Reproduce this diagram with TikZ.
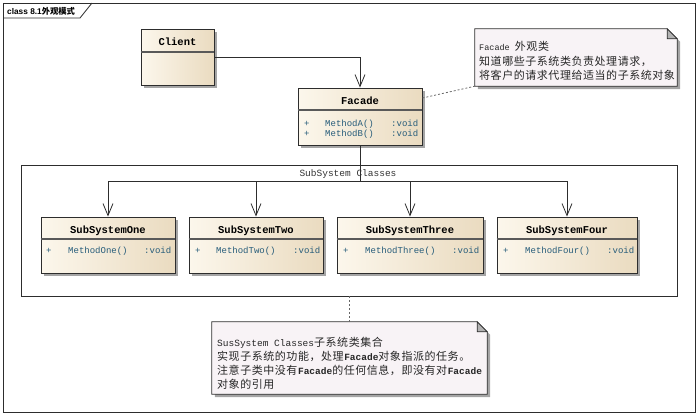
\documentclass[tikz,border=0pt]{standalone}
\usepackage{fontspec}
\setmainfont{Liberation Mono}
\newfontfamily\cjk[LetterSpace=5]{Noto Sans CJK SC}
\newfontfamily\cjktab{Noto Sans CJK SC}
\newfontfamily\tabsans{Liberation Sans}
\usetikzlibrary{arrows.meta,calc}
\definecolor{boxL}{RGB}{252,247,236}
\definecolor{boxR}{RGB}{234,219,192}
\definecolor{notefill}{RGB}{248,243,246}
\definecolor{methc}{RGB}{38,92,122}
\definecolor{linec}{RGB}{45,45,45}
\definecolor{shadowc}{RGB}{165,165,165}
\newcommand\zh[1]{{\cjk\fontsize{11}{14}\selectfont #1}}
\tikzset{
  classbox/.style={draw=linec, line width=0.9pt, left color=boxL, right color=boxR, inner sep=0pt,
    preaction={fill=shadowc, transform canvas={xshift=3pt,yshift=-3pt}}},
  divider/.style={draw=black!65, line width=1.1pt},
  ctitle/.style={font=\bfseries\fontsize{10.5}{12}\selectfont, inner sep=0pt, anchor=base},
  meth/.style={text=methc, font=\fontsize{9}{11}\selectfont, anchor=base west, inner sep=0pt},
  assoc/.style={draw=linec, line width=0.8pt, -{Straight Barb[length=12pt,width=10pt,line width=0.8pt]}},
  plainline/.style={draw=linec, line width=0.8pt},
  noteline/.style={draw=black!60, line width=0.8pt, dash pattern=on 2pt off 2pt},
  notebox/.style={inner sep=0pt},
  notetext/.style={font=\fontsize{9.5}{14}\selectfont, anchor=base west, inner sep=0pt, text=black!85},
}
\newcommand\drawnote[1]{%
  \fill[shadowc] ($(#1.north west)+(3,3)$) -- ($(#1.north east)+(-7,3)$) -- ($(#1.north east)+(3,13)$) -- ($(#1.south east)+(3,3)$) -- ($(#1.south west)+(3,3)$) -- cycle;
  \filldraw[fill=notefill, draw=linec, line width=0.8pt] (#1.north west) -- ($(#1.north east)+(-10,0)$) -- ($(#1.north east)+(0,10)$) -- (#1.south east) -- (#1.south west) -- cycle;
  \filldraw[fill=black!30, draw=linec, line width=0.8pt] ($(#1.north east)+(-10,0)$) -- ($(#1.north east)+(-10,10)$) -- ($(#1.north east)+(0,10)$) -- cycle;
}
\begin{document}
\begin{tikzpicture}[x=1pt,y=-1pt]
\useasboundingbox (0,0) rectangle (698,416);
% outer frame
\node[draw=linec, line width=0.8pt, minimum width=692pt, minimum height=409pt, inner sep=0pt] (frame) at (349,207.5) {};
\coordinate (tabA) at (3,18);
\coordinate (tabB) at (80,18);
\coordinate (tabC) at (92,3);
\draw[linec, line width=0.8pt] (tabA) -- (tabB) -- (tabC);
\node[anchor=base west, inner sep=0pt, font=\tabsans\bfseries\fontsize{8.3}{9}\selectfont] (tab) at (7,14) {class 8.1{\cjktab\bfseries 外观模式}};

% package
\node[draw=linec, line width=0.8pt, minimum width=656pt, minimum height=131pt, inner sep=0pt] (pkg) at (349,230.5) {};
\node[inner sep=0pt, anchor=base, font=\fontsize{9.5}{11}\selectfont, text=black!80] (pkglabel) at (348,176.5) {SubSystem Classes};

% classes
\node[classbox, minimum width=73pt, minimum height=56pt] (client) at (177.5,57) {};
\draw[divider] (client.west |- 0,52) -- (client.east |- 0,52);
\node[ctitle] (clientt) at (177.5,45.5) {Client};

\node[classbox, minimum width=124pt, minimum height=57pt] (facade) at (360,116.5) {};
\draw[divider] (facade.west |- 0,110) -- (facade.east |- 0,110);
\node[ctitle] (facadet) at (360,104.5) {Facade};
\node[meth] (fa1) at (304,126) {+};
\node[meth] (fa2) at (325,126) {MethodA()};
\node[meth] (fa3) at (391,126) {:void};
\node[meth] (fb1) at (304,136) {+};
\node[meth] (fb2) at (325,136) {MethodB()};
\node[meth] (fb3) at (391,136) {:void};

\node[classbox, minimum width=134pt, minimum height=56pt] (one) at (108,245) {};
\draw[divider] (one.west |- 0,239) -- (one.east |- 0,239);
\node[ctitle] (onet) at (108,233.5) {SubSystemOne};
\node[meth] (one1) at (46,253) {+};
\node[meth] (one2) at (68,253) {MethodOne()};
\node[meth] (one3) at (144,253) {:void};

\node[classbox, minimum width=134pt, minimum height=56pt] (two) at (256,245) {};
\draw[divider] (two.west |- 0,239) -- (two.east |- 0,239);
\node[ctitle] (twot) at (256,233.5) {SubSystemTwo};
\node[meth] (two1) at (195,253) {+};
\node[meth] (two2) at (216,253) {MethodTwo()};
\node[meth] (two3) at (293,253) {:void};

\node[classbox, minimum width=146pt, minimum height=56pt] (three) at (410,245) {};
\draw[divider] (three.west |- 0,239) -- (three.east |- 0,239);
\node[ctitle] (threet) at (410,233.5) {SubSystemThree};
\node[meth] (three1) at (343,253) {+};
\node[meth] (three2) at (365,253) {MethodThree()};
\node[meth] (three3) at (452,253) {:void};

\node[classbox, minimum width=140pt, minimum height=56pt] (four) at (567,245) {};
\draw[divider] (four.west |- 0,239) -- (four.east |- 0,239);
\node[ctitle] (fourt) at (567,233.5) {SubSystemFour};
\node[meth] (four1) at (503,253) {+};
\node[meth] (four2) at (525,253) {MethodFour()};
\node[meth] (four3) at (607,253) {:void};

% connectors
\draw[assoc] (client.east) -| (facade.north);
\coordinate (bus) at (facade.south |- 0,181);
\draw[plainline] (facade.south) -- (bus);
\draw[assoc] (bus) -| (one.north);
\draw[assoc] (bus) -| (two.north);
\draw[assoc] (bus) -| (three.north);
\draw[assoc] (bus) -| (four.north);

% notes
\node[notebox, minimum width=202pt, minimum height=57pt] (note1) at (576,57.5) {};
\drawnote{note1}
\node[notetext, font=\fontsize{8.5}{14}\selectfont] (n1a) at (479,50) {Facade \zh{外观类}};
\node[notetext] (n1b) at (479,65) {\zh{知道哪些子系统类负责处理请求，}};
\node[notetext] (n1c) at (479,79) {\zh{将客户的请求代理给适当的子系统对象}};
\draw[noteline] (facade.east |- 0,98) -- (note1.south west);

\node[notebox, minimum width=275pt, minimum height=72pt] (note2) at (349.5,358) {};
\drawnote{note2}
\node[notetext] (n2a) at (217,346) {SusSystem Classes\zh{子系统类集合}};
\node[notetext] (n2b) at (217,360) {\zh{实现子系统的功能，处理}\textbf{Facade}\zh{对象指派的任务。}};
\node[notetext] (n2c) at (217,374) {\zh{注意子类中没有}\textbf{Facade}\zh{的任何信息，即没有对}\textbf{Facade}};
\node[notetext] (n2d) at (217,388) {\zh{对象的引用}};
\draw[noteline] (note2.north |- pkg.south) -- (note2.north);
\end{tikzpicture}
\end{document}
